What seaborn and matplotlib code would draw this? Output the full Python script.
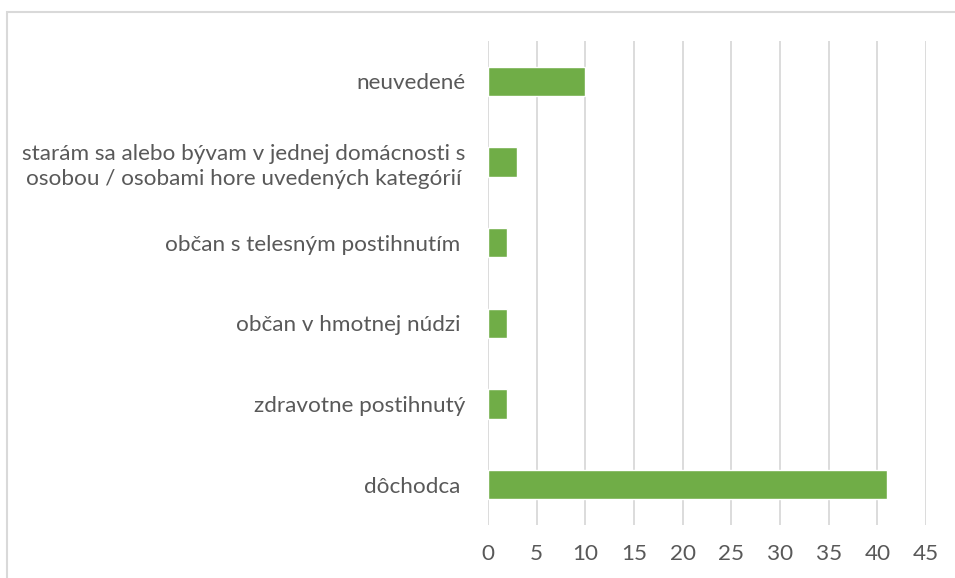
import matplotlib
matplotlib.use("Agg")
import matplotlib.pyplot as plt
import seaborn as sns
import pandas as pd
from matplotlib.patches import Rectangle

categories = [
    "neuvedené",
    "starám sa alebo bývam v jednej domácnosti s\nosobou / osobami hore uvedených kategórií",
    "občan s telesným postihnutím ",
    "občan v hmotnej núdzi ",
    "zdravotne postihnutý",
    "dôchodca ",
]
counts = [10, 3, 2, 2, 2, 41]
x_ticks = [0, 5, 10, 15, 20, 25, 30, 35, 40, 45]

df = pd.DataFrame({"kategoria": categories, "pocet": counts})

sns.set_style("white")
plt.rcParams["font.family"] = ["Lato", "DejaVu Sans"]

fig = plt.figure(figsize=(9.55, 5.78), dpi=100)
ax = fig.add_axes([0.511, 0.0917, 0.4586, 0.8374])

sns.barplot(data=df, x="pocet", y="kategoria", color="#70AD47",
            width=0.36, saturation=1, ax=ax, zorder=3)

ax.set_xlim(0, 45)
ax.set_ylim(5.5, -0.5)
ax.set_xticks(x_ticks)
ax.xaxis.grid(True, color="#D9D9D9", linewidth=1.3, zorder=0)
ax.set_axisbelow(True)
for s in ax.spines.values():
    s.set_visible(False)
ax.set_xlabel("")
ax.set_ylabel("")
ax.tick_params(axis="y", length=0, pad=16, labelsize=16.2, labelcolor="#595959")
ax.tick_params(axis="x", length=0, pad=14, labelsize=16.2, labelcolor="#595959")
for lbl in ax.get_yticklabels():
    lbl.set_multialignment("center")
    lbl.set_linespacing(1.3)

# outer chart border (cut off at right and bottom)
fig.patches.append(Rectangle((7 / 955, -0.1), 1.2, 1 - 11.5 / 578 + 0.1,
                             transform=fig.transFigure, fill=False,
                             edgecolor="#D9D9D9", linewidth=1.5))

fig.savefig("out.png", dpi=100)
